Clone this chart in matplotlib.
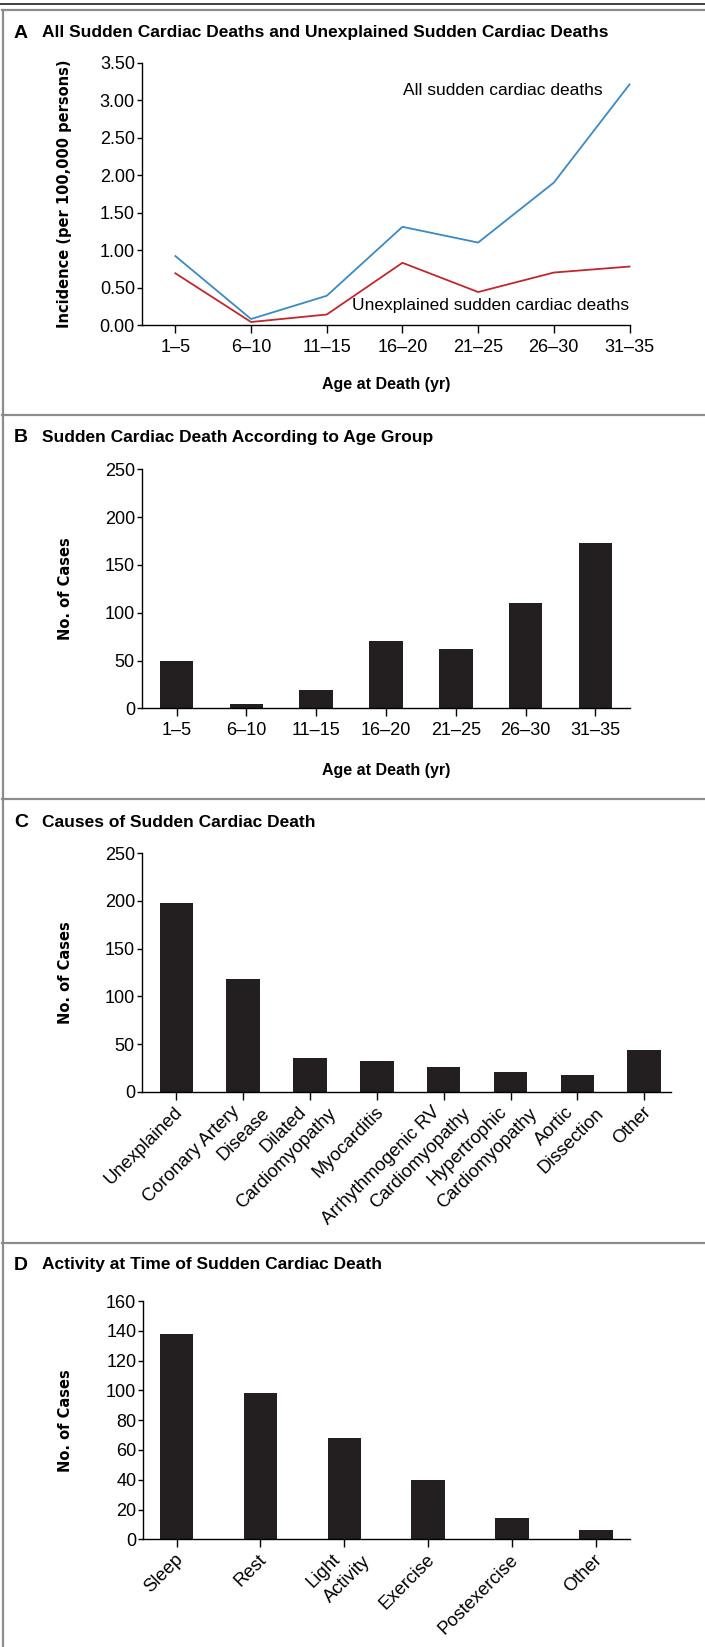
import matplotlib
matplotlib.use("Agg")
import matplotlib.pyplot as plt
from matplotlib.lines import Line2D
from matplotlib.transforms import ScaledTranslation

# figure size in pixels (dpi 100)
W, H = 705, 1647

# A: incidence per 100,000 persons
age_groups = ["1–5", "6–10", "11–15", "16–20", "21–25", "26–30", "31–35"]
incidence_all = [0.92, 0.08, 0.39, 1.31, 1.10, 1.90, 3.21]
incidence_unexplained = [0.69, 0.04, 0.14, 0.83, 0.44, 0.70, 0.78]

# B: cases per age group
cases_by_age = [49, 4, 19, 70, 62, 110, 173]

# C: causes
causes = ["Unexplained", "Coronary Artery\nDisease", "Dilated\nCardiomyopathy", "Myocarditis",
          "Arrhythmogenic RV\nCardiomyopathy", "Hypertrophic\nCardiomyopathy",
          "Aortic\nDissection", "Other"]
cases_by_cause = [198, 118, 35, 32, 26, 21, 18, 44]

# D: activity
activities = ["Sleep", "Rest", "Light\nActivity", "Exercise", "Postexercise", "Other"]
cases_by_activity = [138, 98, 68, 40, 14, 6]

REG = ["Liberation Sans", "DejaVu Sans"]
plt.rcParams["font.family"] = REG

BAR = "#231f20"
BLUE = "#3a8ac4"
RED = "#c1272d"
FRAME = "#8c8c8c"

fig = plt.figure(figsize=(W / 100, H / 100), dpi=100)


def fx(x):
    return x / W


def fy(y):
    return 1 - y / H


def add_ax(x0, x1, y0, y1):
    return fig.add_axes([fx(x0), fy(y1), (x1 - x0) / W, (y1 - y0) / H])


def style(ax):
    for s in ["top", "right"]:
        ax.spines[s].set_visible(False)
    for s in ["left", "bottom"]:
        ax.spines[s].set_linewidth(1.0)
        ax.spines[s].set_color("black")
    ax.tick_params(axis="y", length=3.3, width=1.0, pad=1.5, labelsize=13)
    ax.tick_params(axis="x", length=5.8, width=1.0, pad=4, labelsize=13)


def panel_title(letter, text, y):
    fig.text(fx(14), fy(y), letter, fontsize=14, fontweight="bold", va="center", ha="left")
    fig.text(fx(42.5), fy(y), text, fontsize=12.5, fontweight="bold", va="center", ha="left")


def ylab(text, ax_y0, ax_y1):
    fig.text(fx(65), fy((ax_y0 + ax_y1) / 2), text, rotation=90, ha="center", va="center",
             fontsize=10.5, fontweight="bold", family="DejaVu Sans")


def xlab(text, x, y):
    fig.text(fx(x), fy(y), text, ha="center", va="center", fontsize=11.5, fontweight="bold")


def slanted_labels(ax, labels):
    # 45 degree labels; in two-line labels the ends of both lines sit at the same height,
    # the second one pushed to the right
    ax.set_xticks(range(len(labels)))
    ax.tick_params(axis="x", labelbottom=False)
    for i, lab in enumerate(labels):
        lines = lab.split("\n")
        first_dx = -10 if len(lines) > 1 else 0
        for k, line in enumerate(lines):
            ox = (7 + first_dx + 30 * k) / 100
            oy = (-21 - 1.5 * k) / 100
            tr = ax.get_xaxis_transform() + ScaledTranslation(ox, oy, fig.dpi_scale_trans)
            ax.text(i, 0, line, transform=tr, rotation=45, rotation_mode="anchor", ha="right",
                    va="baseline", fontsize=13.2, clip_on=False)


# frame lines
fig.add_artist(Line2D([0, 1], [fy(4), fy(4)], color="#222222", lw=1.2))
for yy in [10, 415, 799, 1243]:
    fig.add_artist(Line2D([fx(2), 1], [fy(yy), fy(yy)], color=FRAME, lw=1.6))
fig.add_artist(Line2D([fx(2.5), fx(2.5)], [fy(10), 0], color=FRAME, lw=1.6))

# ---- Panel A
panel_title("A", "All Sudden Cardiac Deaths and Unexplained Sudden Cardiac Deaths", 33)
axA = add_ax(141.6, 629.5, 62.7, 325)
style(axA)
xa = list(range(len(age_groups)))
axA.plot(xa, incidence_all, color=BLUE, lw=1.3, clip_on=False)
axA.plot(xa, incidence_unexplained, color=RED, lw=1.3, clip_on=False)
axA.set_xlim(-0.446, 6.0)
axA.set_ylim(0, 3.5)
axA.set_yticks([0, 0.5, 1.0, 1.5, 2.0, 2.5, 3.0, 3.5])
axA.set_yticklabels(["{:.2f}".format(v) for v in axA.get_yticks()])
axA.set_xticks(xa)
axA.set_xticklabels(age_groups)
axA.text(5.64, 3.13, "All sudden cardiac deaths", ha="right", va="center", fontsize=12.5)
axA.text(6.0, 0.26, "Unexplained sudden cardiac deaths", ha="right", va="center", fontsize=12.5)
ylab("Incidence (per 100,000 persons)", 62.7, 325)
xlab("Age at Death (yr)", 386, 385)

# ---- Panel B
panel_title("B", "Sudden Cardiac Death According to Age Group", 438)
axB = add_ax(141.6, 630.4, 469.3, 708.3)
style(axB)
axB.bar(xa, cases_by_age, width=0.48, color=BAR)
axB.set_xlim(-0.5, 6.5)
axB.set_ylim(0, 250)
axB.set_yticks(range(0, 251, 50))
axB.set_xticks(xa)
axB.set_xticklabels(age_groups)
ylab("No. of Cases", 469.3, 708.3)
xlab("Age at Death (yr)", 386, 770)

# ---- Panel C
panel_title("C", "Causes of Sudden Cardiac Death", 822)
axC = add_ax(141.6, 670.9, 853.3, 1091.7)
style(axC)
xc = list(range(len(causes)))
axC.bar(xc, cases_by_cause, width=0.5, color=BAR)
axC.set_xlim(-0.52, 7.4)
axC.set_ylim(0, 250)
axC.set_yticks(range(0, 251, 50))
slanted_labels(axC, causes)
ylab("No. of Cases", 853.3, 1091.7)

# ---- Panel D
panel_title("D", "Activity at Time of Sudden Cardiac Death", 1265)
axD = add_ax(143, 630.4, 1301, 1539.3)
style(axD)
xd = list(range(len(activities)))
axD.bar(xd, cases_by_activity, width=0.40, color=BAR)
axD.set_xlim(-0.40, 5.41)
axD.set_ylim(0, 160)
axD.set_yticks(range(0, 161, 20))
slanted_labels(axD, activities)
ylab("No. of Cases", 1301, 1539.3)

fig.savefig("out.png", dpi=100)
